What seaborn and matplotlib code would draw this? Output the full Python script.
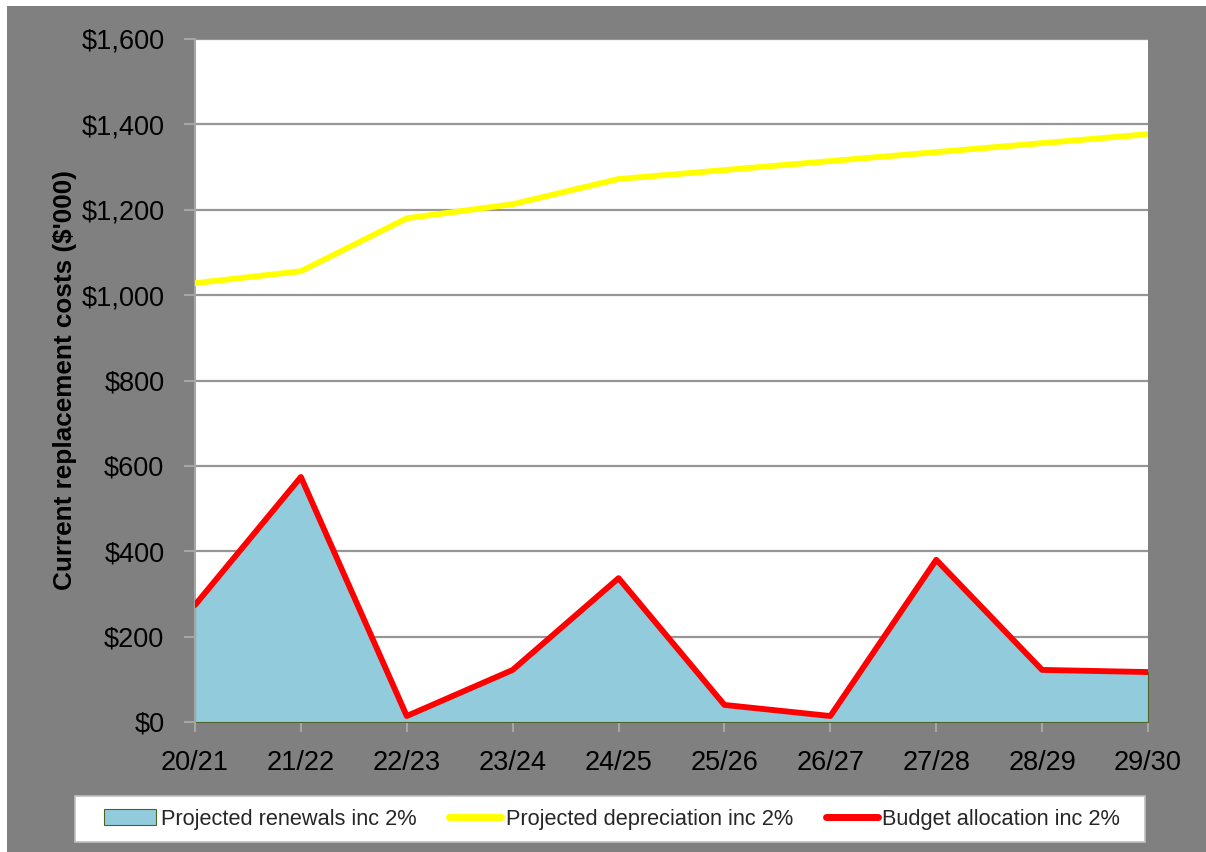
import matplotlib
matplotlib.use("Agg")
import matplotlib.pyplot as plt
from matplotlib import font_manager
from matplotlib.patches import Rectangle, Patch
from matplotlib.lines import Line2D
from matplotlib.ticker import FuncFormatter, MultipleLocator
import seaborn as sns
import pandas as pd
import numpy as np

years = ["20/21", "21/22", "22/23", "23/24", "24/25", "25/26", "26/27", "27/28", "28/29", "29/30"]
renewals = [274, 574, 14, 122, 337, 40, 14, 380, 122, 117]
depreciation = [1028, 1056, 1180, 1213, 1272, 1293, 1314, 1335, 1356, 1377]
budget = [274, 574, 14, 122, 337, 40, 14, 380, 122, 117]

sns.set_theme(style="white")
names = {f.name for f in font_manager.fontManager.ttflist}
fam = "Liberation Sans Narrow" if "Liberation Sans Narrow" in names else "Liberation Sans"
plt.rcParams["font.family"] = [fam, "DejaVu Sans"]

df = pd.DataFrame({"idx": np.arange(len(years)), "year": years,
                   "renewals": renewals, "depreciation": depreciation, "budget": budget})

W, H = 1206, 852
fig = plt.figure(figsize=(W / 100, H / 100), dpi=100)
fig.patch.set_facecolor("white")
fig.add_artist(Rectangle((7 / W, 0), 1 - 7 / W, 1 - 6 / H, transform=fig.transFigure,
                         facecolor="#808080", edgecolor="none", zorder=0))
# legend box
fig.add_artist(Rectangle((75 / W, 1 - 842 / H), (1145 - 75) / W, (842 - 796) / H,
                         transform=fig.transFigure, facecolor="white", edgecolor="#BFBFBF",
                         linewidth=1.2, zorder=1))

ax = fig.add_axes([195 / W, 1 - 722 / H, (1148 - 195) / W, (722 - 39) / H])
ax.set_facecolor("white")

ax.fill_between(df["idx"], 0, df["renewals"], color="#92CBDC", edgecolor="#4F6228",
                linewidth=0.8, zorder=2)
sns.lineplot(data=df, x="idx", y="depreciation", color="#FFFF00", linewidth=4.2, ax=ax, zorder=3)
sns.lineplot(data=df, x="idx", y="budget", color="#FF0000", linewidth=4.2, ax=ax, zorder=4)

ax.set_xlim(0, len(years) - 1)
ax.set_ylim(0, 1600)
ax.yaxis.set_major_locator(MultipleLocator(200))
ax.yaxis.set_major_formatter(FuncFormatter(lambda v, p: f"${int(v):,}"))
ax.set_xticks(df["idx"])
ax.set_xticklabels(years)
ax.grid(axis="y", color="#969696", linewidth=1.6, zorder=1)
ax.set_axisbelow(True)
for s in ax.spines.values():
    s.set_visible(False)
ax.spines["left"].set_visible(True)
ax.spines["left"].set_color("#A6A6A6")
ax.spines["left"].set_linewidth(1.5)
ax.tick_params(axis="y", which="major", left=True, length=8, width=1.5, color="#A6A6A6",
               labelsize=19.5, labelcolor="black", pad=14)
ax.tick_params(axis="x", which="major", bottom=True, length=7, width=1.5, color="#A6A6A6",
               labelsize=19.5, labelcolor="black", pad=13)
ax.set_xlabel("")
ax.set_ylabel("Current replacement costs ($'000)", fontsize=18.8, fontweight="bold",
              color="black", labelpad=3)

handles = [Patch(facecolor="#92CBDC", edgecolor="#4F6228", linewidth=0.8),
           Line2D([0], [0], color="#FFFF00", linewidth=5),
           Line2D([0], [0], color="#FF0000", linewidth=5)]
labels = ["Projected renewals inc 2%", "Projected depreciation inc 2%", "Budget allocation inc 2%"]
leg = fig.legend(handles, labels, loc="center", bbox_to_anchor=(612 / W, 1 - 819 / H),
                 ncol=3, fontsize=15.7, frameon=False, handlelength=2.4, handletextpad=0.2,
                 columnspacing=1.5, borderpad=0.0, borderaxespad=0)
leg.set_zorder(2)

fig.savefig("out.png", dpi=100, facecolor=fig.get_facecolor())
